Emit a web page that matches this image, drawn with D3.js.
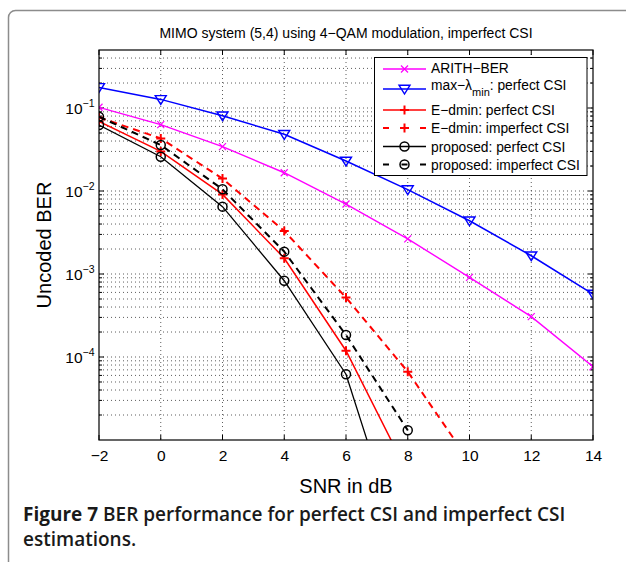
<!DOCTYPE html>
<html><head><meta charset="utf-8">
<script src="https://cdn.jsdelivr.net/npm/d3@7"></script>
<style>
html,body{margin:0;padding:0;background:#fff;}
svg{display:block;}
</style></head><body>
<svg id="c" width="626" height="562"></svg>
<script>
// ---- data ----
const snrFull = [-2, 0, 2, 4, 6, 8, 10, 12, 14];
const arithBER = [0.102, 0.0630, 0.0342, 0.0166, 0.00697, 0.00265, 9.12e-4, 3.06e-4, 7.64e-5];
const maxLambdaPerfect = [0.177, 0.127, 0.0807, 0.0482, 0.0230, 0.0104, 0.00438, 0.00166, 5.74e-4];
const snrEdminPerfect = [-2, 0, 2, 4, 6, 8];
const edminPerfect = [0.069, 0.030, 0.0091, 0.00155, 1.19e-4, 4.0e-6];
const snrEdminImperfect = [-2, 0, 2, 4, 6, 8, 10];
const edminImperfect = [0.077, 0.043, 0.0141, 0.0033, 5.2e-4, 6.65e-5, 5.5e-6];
const snrPropPerfect = [-2, 0, 2, 4, 6, 8];
const propPerfect = [0.0624, 0.0259, 0.00648, 8.3e-4, 6.2e-5, 2.9e-7];
const snrPropImperfect = [-2, 0, 2, 4, 6, 8];
const propImperfect = [0.0785, 0.0358, 0.0105, 0.00186, 1.84e-4, 1.31e-5];

const xTicks = [-2, 0, 2, 4, 6, 8, 10, 12, 14];
const yTickExps = [-1, -2, -3, -4];
const legendLabels = ["ARITH\u2212BER", "max\u2212\u03bb|min|: perfect CSI", "E\u2212dmin: perfect CSI",
  "E\u2212dmin: imperfect CSI", "proposed: perfect CSI", "proposed: imperfect CSI"];
const titleText = "MIMO system (5,4) using 4\u2212QAM modulation, imperfect CSI";
const xLabel = "SNR in dB";
const yLabel = "Uncoded BER";
const captionBold = "Figure 7";
const captionRest = " BER performance for perfect CSI and imperfect CSI";
const captionLine2 = "estimations.";

const series = [
  {xs: snrFull, ys: arithBER, color: "#ff00ff", dash: null, width: 1.4, marker: "x"},
  {xs: snrFull, ys: maxLambdaPerfect, color: "#0000ff", dash: null, width: 1.5, marker: "tri"},
  {xs: snrEdminPerfect, ys: edminPerfect, color: "#ff0000", dash: null, width: 1.5, marker: "plus"},
  {xs: snrEdminImperfect, ys: edminImperfect, color: "#ff0000", dash: "7,5", width: 2, marker: "plus"},
  {xs: snrPropPerfect, ys: propPerfect, color: "#000000", dash: null, width: 1.3, marker: "circle"},
  {xs: snrPropImperfect, ys: propImperfect, color: "#000000", dash: "7,5", width: 2, marker: "circle"}
];

const FONT = "'Liberation Sans', Arial, Helvetica, sans-serif";
const svg = d3.select("#c");

// figure frame
svg.append("rect").attr("x", 8.5).attr("y", 10.5).attr("width", 660).attr("height", 600)
  .attr("rx", 7).attr("fill", "none").attr("stroke", "#8c8c8c").attr("stroke-width", 1.5);

const m = {l: 99, r: 593, t: 50, b: 440};
const x = d3.scaleLinear().domain([-2, 14]).range([m.l, m.r]);
const y = d3.scaleLog().domain([1e-5, 0.5]).range([m.b, m.t]);

// grid
const g = svg.append("g");
const gridVals = [];
for (let e = -5; e <= -1; e++) for (let k = 1; k <= 9; k++) {
  const v = k * Math.pow(10, e);
  if (v > 1.0001e-5 && v < 0.4999) gridVals.push(v);
}
g.selectAll("line.hg").data(gridVals).join("line").attr("class", "hg")
  .attr("x1", m.l).attr("x2", m.r).attr("y1", d => y(d)).attr("y2", d => y(d))
  .attr("stroke", "#333").attr("stroke-width", 0.8).attr("stroke-dasharray", "1,3");
g.selectAll("line.vg").data(xTicks.slice(1, -1)).join("line").attr("class", "vg")
  .attr("x1", d => x(d)).attr("x2", d => x(d)).attr("y1", m.t).attr("y2", m.b)
  .attr("stroke", "#333").attr("stroke-width", 0.8).attr("stroke-dasharray", "1,3");

// ticks (inward, all four sides)
const minorVals = gridVals.filter(v => Math.abs(Math.log10(v) - Math.round(Math.log10(v))) > 1e-6);
const majorVals = gridVals.filter(v => Math.abs(Math.log10(v) - Math.round(Math.log10(v))) <= 1e-6);
const tk = svg.append("g").attr("stroke", "#000").attr("stroke-width", 1);
xTicks.forEach(t => {
  tk.append("line").attr("x1", x(t)).attr("x2", x(t)).attr("y1", m.b).attr("y2", m.b - 5);
  tk.append("line").attr("x1", x(t)).attr("x2", x(t)).attr("y1", m.t).attr("y2", m.t + 5);
});
majorVals.forEach(v => {
  tk.append("line").attr("x1", m.l).attr("x2", m.l + 5).attr("y1", y(v)).attr("y2", y(v));
  tk.append("line").attr("x1", m.r).attr("x2", m.r - 5).attr("y1", y(v)).attr("y2", y(v));
});
minorVals.forEach(v => {
  tk.append("line").attr("x1", m.l).attr("x2", m.l + 3).attr("y1", y(v)).attr("y2", y(v));
  tk.append("line").attr("x1", m.r).attr("x2", m.r - 3).attr("y1", y(v)).attr("y2", y(v));
});

// x tick labels via d3 axis
const xAxis = svg.append("g").attr("transform", `translate(0,${m.b})`)
  .call(d3.axisBottom(x).tickValues(xTicks).tickSize(0).tickPadding(0)
    .tickFormat(d => (d < 0 ? "\u2212" : "") + Math.abs(d)));
xAxis.select(".domain").remove();
xAxis.selectAll("text").attr("dy", null).attr("y", 21).attr("font-size", 15.5)
  .attr("font-family", FONT).attr("fill", "#000");

// y tick labels: 10^e
const yl = svg.append("g");
yTickExps.forEach(e => {
  const t = yl.append("text").attr("x", 94.5).attr("y", y(Math.pow(10, e)) + 5.5)
    .attr("text-anchor", "end").attr("font-family", FONT).attr("font-size", 15.5).attr("fill", "#000");
  t.append("tspan").text("10");
  t.append("tspan").attr("font-size", 10.5).attr("dy", -7).text("\u2212" + Math.abs(e));
});

// clip
svg.append("clipPath").attr("id", "pc").append("rect")
  .attr("x", m.l).attr("y", m.t).attr("width", m.r - m.l).attr("height", m.b - m.t);
const plot = svg.append("g").attr("clip-path", "url(#pc)");

const markerPath = {
  circle: "M4.5,0A4.5,4.5 0 1,1 -4.5,0A4.5,4.5 0 1,1 4.5,0Z",
  tri: "M-5.5,-3.8L5.5,-3.8L0,5Z",
  plus: "M-4.5,0H4.5M0,-4.5V4.5",
  x: "M-3.5,-3.5L3.5,3.5M-3.5,3.5L3.5,-3.5"
};
const markerWidth = {circle: 1.5, tri: 1.4, plus: 2, x: 1.2};

series.forEach(s => {
  const pts = s.xs.map((v, i) => ({s: v, v: s.ys[i]}));
  plot.append("path").datum(pts)
    .attr("d", d3.line().x(d => x(d.s)).y(d => y(d.v)))
    .attr("fill", "none").attr("stroke", s.color).attr("stroke-width", s.width)
    .attr("stroke-dasharray", s.dash);
  plot.selectAll(null).data(pts).join("path")
    .attr("transform", d => `translate(${x(d.s)},${y(d.v)})`)
    .attr("d", markerPath[s.marker]).attr("fill", "none")
    .attr("stroke", s.color).attr("stroke-width", markerWidth[s.marker]);
});

// axes box
svg.append("rect").attr("x", m.l).attr("y", m.t).attr("width", m.r - m.l).attr("height", m.b - m.t)
  .attr("fill", "none").attr("stroke", "#000").attr("stroke-width", 1.2);

// title & labels
svg.append("text").attr("x", (m.l + m.r) / 2).attr("y", 38).attr("text-anchor", "middle")
  .attr("font-family", FONT).attr("font-size", 14).text(titleText);
svg.append("text").attr("x", (m.l + m.r) / 2).attr("y", 493).attr("text-anchor", "middle")
  .attr("font-family", FONT).attr("font-size", 20).text(xLabel);
svg.append("text").attr("transform", `translate(51,${(m.t + m.b) / 2}) rotate(-90)`)
  .attr("text-anchor", "middle").attr("font-family", FONT).attr("font-size", 20).text(yLabel);

// legend
const lg = svg.append("g");
lg.append("rect").attr("x", 374.5).attr("y", 57.5).attr("width", 212.5).attr("height", 118)
  .attr("fill", "#fff").attr("stroke", "#000").attr("stroke-width", 1);
const rowY = [69, 89, 110, 128, 146.5, 164.5];
const textBase = [73, 89.5, 115, 133, 151.5, 169.5];
series.forEach((s, i) => {
  const ry = rowY[i];
  lg.append("line").attr("x1", 383).attr("x2", 426).attr("y1", ry).attr("y2", ry)
    .attr("stroke", s.color).attr("stroke-width", s.width)
    .attr("stroke-dasharray", s.dash ? "6,12.5" : null);
  lg.append("path").attr("transform", `translate(404.5,${ry})`).attr("d", markerPath[s.marker])
    .attr("fill", "none").attr("stroke", s.color).attr("stroke-width", markerWidth[s.marker]);
  const parts = legendLabels[i].split("|");
  const t = lg.append("text").attr("x", 431).attr("y", textBase[i])
    .attr("font-family", FONT).attr("font-size", 13.8);
  if (parts.length === 3) {
    t.append("tspan").text(parts[0]);
    t.append("tspan").attr("font-size", 11).attr("dy", 6.5).text(parts[1]);
    t.append("tspan").attr("dy", -6.5).text(parts[2]);
  } else {
    t.text(parts[0]);
  }
});

// caption
const CAP = "'Open Sans', 'Noto Sans', sans-serif";
const c1 = svg.append("text").attr("x", 23).attr("y", 521).attr("font-family", CAP)
  .attr("font-size", 19).attr("font-weight", 600).attr("fill", "#1a1a1a");
c1.append("tspan").attr("font-weight", 700).text(captionBold);
c1.append("tspan").text(captionRest);
svg.append("text").attr("x", 23).attr("y", 546).attr("font-family", CAP)
  .attr("font-size", 19).attr("font-weight", 600).attr("fill", "#1a1a1a").text(captionLine2);
</script>
</body></html>
